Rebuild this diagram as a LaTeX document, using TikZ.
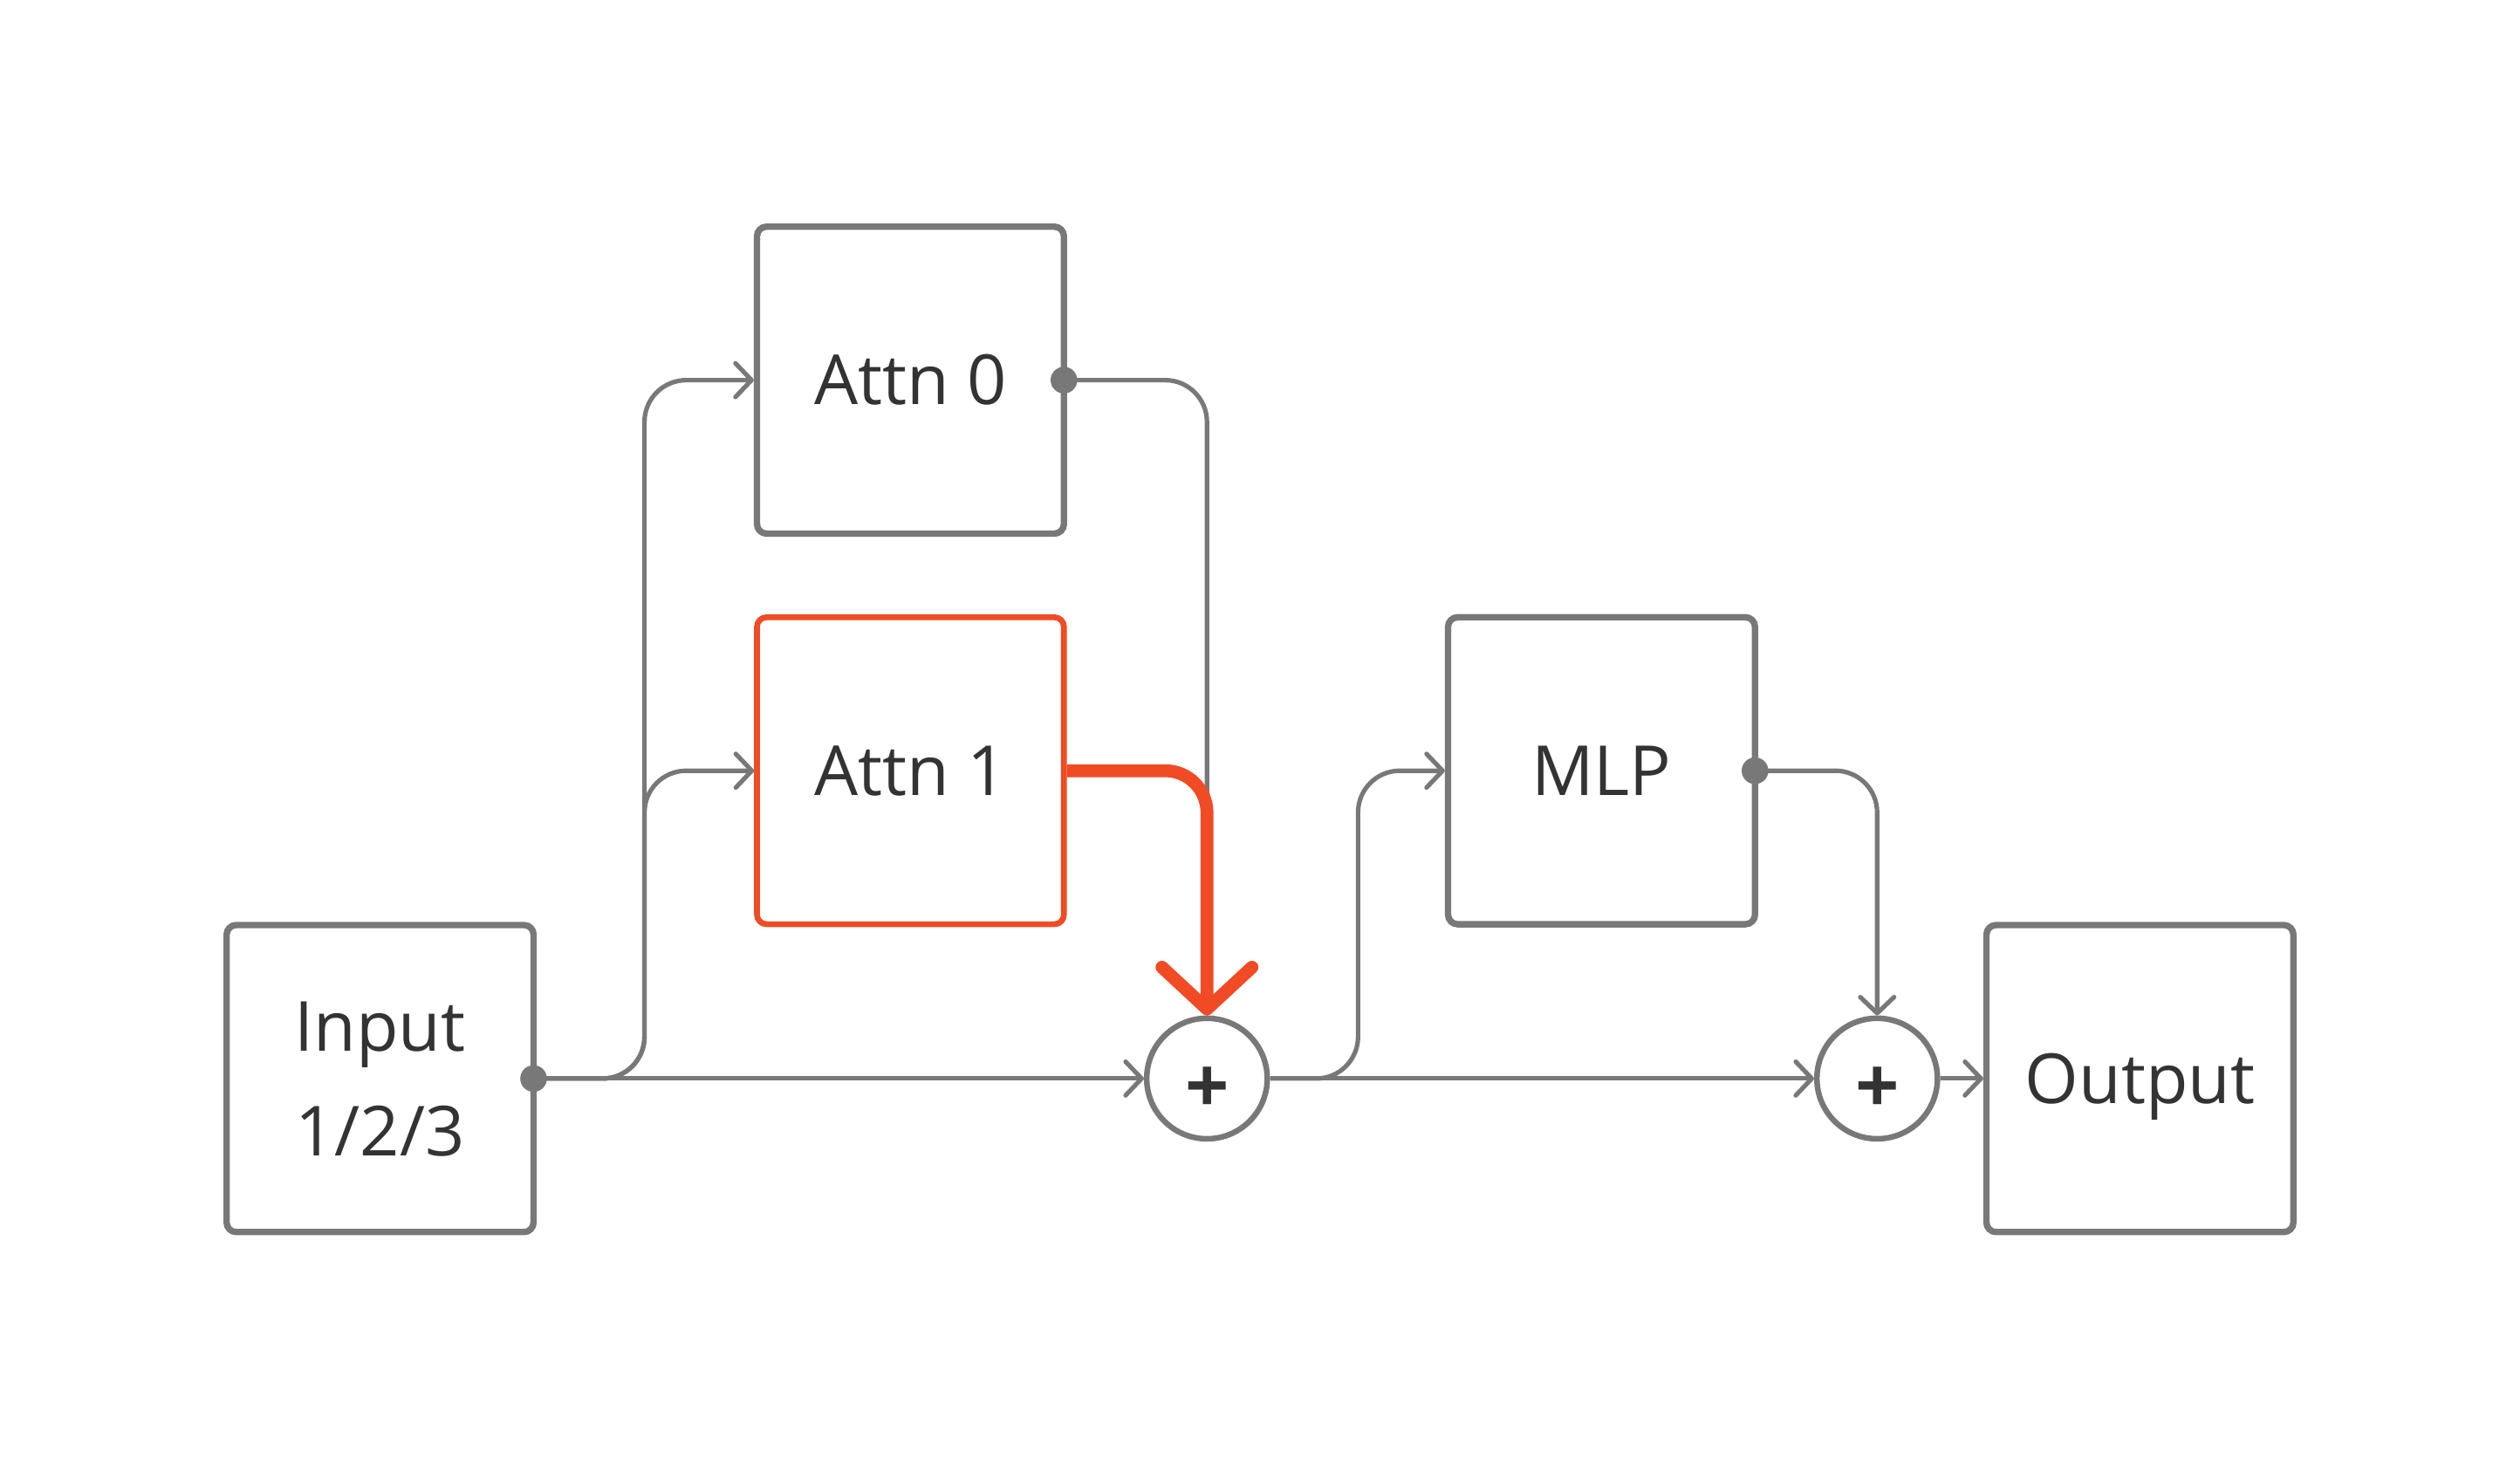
\documentclass[tikz,border=0pt]{standalone}
\usepackage{fontspec}
\setmainfont{Open Sans}
\usetikzlibrary{arrows.meta}
\definecolor{linegray}{HTML}{787878}
\definecolor{hot}{HTML}{F04B24}
\definecolor{ink}{HTML}{333333}
\begin{document}
\begin{tikzpicture}[x=1pt,y=-1pt,
  labelfont/.style={font=\fontsize{43}{65}\selectfont, text=ink},
  box/.style={draw=linegray, line width=4pt, rounded corners=6pt,
    minimum width=191pt, minimum height=191pt, inner sep=0pt, fill=white,
    labelfont, text height=30.7pt, text depth=0pt},
  hotbox/.style={box, draw=hot, line width=3.6pt},
  sumnode/.style={circle, draw=linegray, line width=3.5pt, fill=white,
    minimum size=75pt, inner sep=0pt, labelfont, font=\fontsize{48}{65}\selectfont\bfseries,
    text height=42.5pt, text depth=0pt},
  conn/.style={draw=linegray, line width=2.8pt, rounded corners=26pt,
    -{Straight Barb[length=10pt,width=21pt,line cap=round,line join=round]}},
  hotconn/.style={draw=hot, line width=8pt, rounded corners=26pt,
    -{Straight Barb[length=26pt,width=56pt,line cap=round,line join=round]}},
  tap/.style={fill=linegray}
]
\useasboundingbox (0,0) rectangle (1568,908);

% blocks
\node[box, align=center, text height=, text depth=0pt] (in) at (236.5,671) {Input\\1/2/3};
\node[box]    (a0)  at (566.5,236.5) {Attn 0};
\node[hotbox] (a1)  at (566.5,479.5) {Attn 1};
\node[box]    (mlp) at (996.5,479.5) {MLP};
\node[box]    (out) at (1331.5,671)  {Output};
\node[sumnode] (p1) at (751,671)  {+};
\node[sumnode] (p2) at (1168,671) {+};

% bend points of the residual stream and branches
\coordinate (splitIn)  at (401,671);
\coordinate (a0turn)   at (751,236.5);
\coordinate (a1turn)   at (751,479.5);
\coordinate (splitMid) at (845,671);
\coordinate (mlpturn)  at (1168,479.5);

% residual stream
\draw[conn] (in.east) -- (p1.west);
\draw[conn] (p1.east) -- (p2.west);
\draw[conn] (p2.east) -- (out.west);

% branches into the blocks
\draw[conn] (in.east) -- (splitIn) |- (a0.west);
\draw[conn] (in.east) -- (splitIn) |- (a1.west);
\draw[conn] (p1.east) -- (splitMid) |- (mlp.west);

% block outputs back into the stream
\draw[conn] (a0.east) -- (a0turn) -- (p1.north);
\draw[conn] (mlp.east) -- (mlpturn) -- (p2.north);
\draw[hotconn] (a1.east) -- (a1turn) -- (p1.north);

% output taps
\fill[tap] (in.east) ++(-2,0) circle (8.3);
\fill[tap] (a0.east) ++(-2,0) circle (8.3);
\fill[tap] (mlp.east) ++(-2,0) circle (8.3);
\end{tikzpicture}
\end{document}
